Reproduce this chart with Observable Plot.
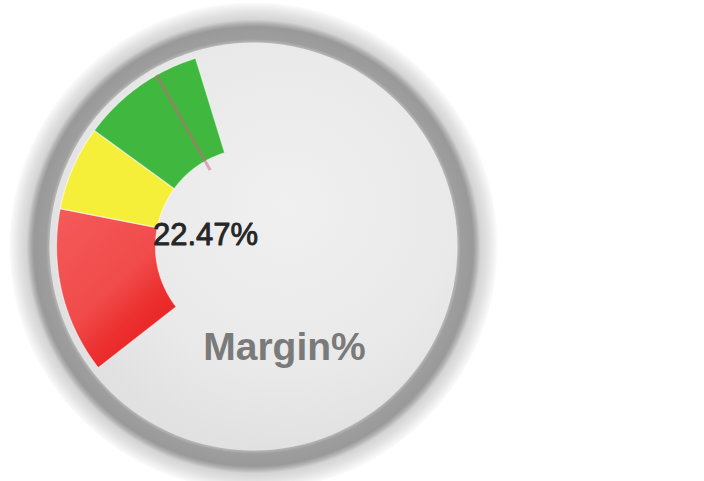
<!DOCTYPE html>
<html>
<head>
<meta charset="utf-8">
<script src="https://cdn.jsdelivr.net/npm/d3@7"></script>
<script src="https://cdn.jsdelivr.net/npm/@observablehq/plot@0.6"></script>
<style>
  html, body { margin: 0; padding: 0; background: #ffffff; }
  #chart { width: 704px; height: 481px; }
</style>
</head>
<body>
<div id="chart"></div>
<script>
// ---- data ----
const bandNames = ["Low", "Medium", "High"];
const bandStart = [0, 11.2, 16.9];
const bandEnd = [11.2, 16.9, 25.3];
const gaugeMin = [0];
const gaugeMax = [58.4];
const needleValue = [22.47];
const valueLabel = ["22.47%"];
const titleLabel = ["Margin%"];

// ---- styles / layout ----
const bandFills = ["url(#redGrad)", "#f6ef3a", "#40b840"];
const W = 704, H = 481;
const cx = 253, cy = 246;              // gauge centre in pixels
const rInner = 98, rOuter = 197;       // band radii
const startDeg = -128, endDeg = 128;   // gauge sweep (clockwise from top)

const angle = d3.scaleLinear().domain([gaugeMin[0], gaugeMax[0]]).range([startDeg, endDeg]);
const polar = (v, r) => {
  const a = angle(v) * Math.PI / 180;
  return {x: r * Math.sin(a), y: r * Math.cos(a)};
};

// band polygons built from band values
const bandData = bandNames.map((name, i) => {
  const pts = [];
  const n = 48;
  for (let k = 0; k <= n; k++) {
    const v = bandStart[i] + (bandEnd[i] - bandStart[i]) * k / n;
    pts.push({band: name, ...polar(v, rOuter)});
  }
  for (let k = n; k >= 0; k--) {
    const v = bandStart[i] + (bandEnd[i] - bandStart[i]) * k / n;
    pts.push({band: name, ...polar(v, rInner)});
  }
  return pts;
});

const needle = needleValue.map(v => {
  const a = polar(v, 88), b = polar(v, rOuter);
  return {x1: a.x, y1: a.y, x2: b.x, y2: b.y};
});

const centre = [{x: 0, y: 0}];

const plot = Plot.plot({
  width: W,
  height: H,
  margin: 0,
  x: {domain: [-cx, W - cx], range: [0, W], axis: null},
  y: {domain: [-(H - cy), cy], range: [H, 0], axis: null},
  style: {background: "#ffffff", fontFamily: "'Liberation Sans', Arial, sans-serif"},
  marks: [
    // bezel + ring + face
    Plot.dot(centre, {x: "x", y: "y", r: 244, fill: "url(#bezelGrad)", stroke: "none"}),
    Plot.dot(centre, {x: "x", y: "y", r: 204, fill: "url(#faceGrad)", stroke: "none"}),
    // coloured bands
    ...bandData.map((pts, i) => Plot.line(pts, {
      x: "x", y: "y", curve: "linear-closed",
      fill: bandFills[i], stroke: "#ffffff", strokeOpacity: 0.55, strokeWidth: 1.2
    })),
    // needle
    Plot.link(needle, {x1: "x1", y1: "y1", x2: "x2", y2: "y2",
      stroke: "#d0607a", strokeOpacity: 0.5, strokeWidth: 3}),
    // value label
    Plot.text(valueLabel, {x: () => 0, y: () => 0, text: d => d, dx: -48, dy: -11,
      fontSize: 31, fontWeight: "normal", fill: "#262626", stroke: "#262626", strokeWidth: 0.9,
      textAnchor: "middle"}),
    // title label
    Plot.text(titleLabel, {x: () => 0, y: () => 0, text: d => d, dx: 31, dy: 101,
      fontSize: 39, fontWeight: "bold", fill: "#7a7a7a", textAnchor: "middle"})
  ]
});

const defs = d3.select(plot).insert("defs", ":first-child");
const bez = defs.append("radialGradient").attr("id", "bezelGrad")
  .attr("cx", "50%").attr("cy", "50%").attr("r", "50%");
[[0, "#e6e6e6"], [0.82, "#e2e2e2"], [0.836, "#b8b8b8"], [0.85, "#9e9e9e"],
 [0.9, "#999999"], [0.915, "#b2b2b2"], [0.93, "#d4d4d4"], [0.96, "#e2e2e2"], [1, "#fbfbfb"]]
  .forEach(([o, c]) => bez.append("stop").attr("offset", o).attr("stop-color", c));
const face = defs.append("radialGradient").attr("id", "faceGrad")
  .attr("cx", "58%").attr("cy", "40%").attr("r", "60%");
[[0, "#f0f0f0"], [0.7, "#e9e9e9"], [1, "#e1e1e1"]]
  .forEach(([o, c]) => face.append("stop").attr("offset", o).attr("stop-color", c));
const red = defs.append("linearGradient").attr("id", "redGrad")
  .attr("x1", "0").attr("y1", "0").attr("x2", "0.7").attr("y2", "1");
[[0, "#f45a5a"], [0.55, "#f14b4b"], [0.75, "#ec3030"], [1, "#e81f1f"]]
  .forEach(([o, c]) => red.append("stop").attr("offset", o).attr("stop-color", c));

document.getElementById("chart").appendChild(plot);
</script>
</body>
</html>
